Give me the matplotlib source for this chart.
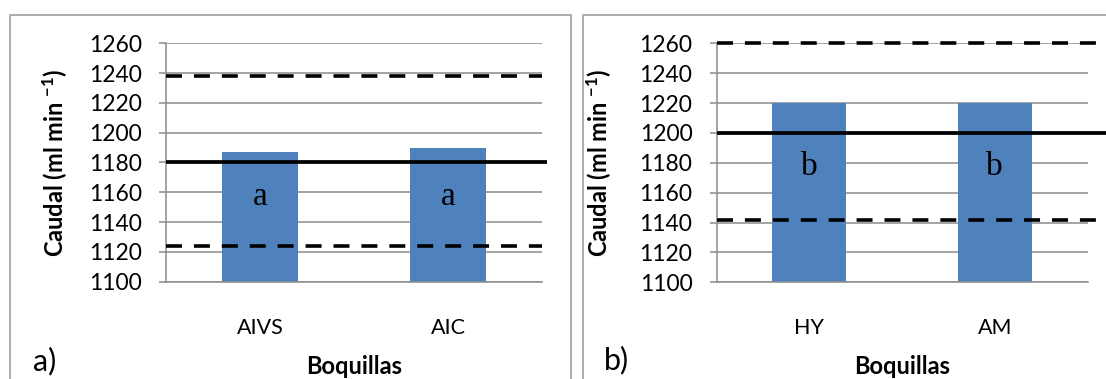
import matplotlib
matplotlib.use("Agg")
import matplotlib.pyplot as plt
from matplotlib.lines import Line2D

plt.rcParams['font.family'] = ['Lato', 'DejaVu Sans']
plt.rcParams['mathtext.default'] = 'regular'
plt.rcParams['lines.scale_dashes'] = False

# ---- data ----
cats_a = ["AIVS", "AIC"]
vals_a = [1187, 1190]
letters_a = ["a", "a"]
mean_a = 1180
lo_a = 1124
hi_a = 1238

cats_b = ["HY", "AM"]
vals_b = [1220, 1220]
letters_b = ["b", "b"]
mean_b = 1200
lo_b = 1142
hi_b = 1260

yticks = list(range(1100, 1261, 20))

W, H = 1106, 379
fig = plt.figure(figsize=(W / 100, H / 100), dpi=100)

BAR = '#4F81BD'
GRID = '#8c8c8c'


def px(x0, y_top, x1, y_bot):
    return [x0 / W, 1 - y_bot / H, (x1 - x0) / W, (y_bot - y_top) / H]


def panel(rect, cats, vals, letters, letter_y, mean, lo, hi, solid_xmax, dash_xmax, ylab_x):
    ax = fig.add_axes(rect)
    x = list(range(len(cats)))
    ax.bar(x, vals, width=0.40, color=BAR, zorder=2)
    ax.set_xlim(-0.5, len(cats) - 0.5)
    ax.set_ylim(yticks[0], yticks[-1])
    ax.set_yticks(yticks)
    ax.set_xticks(x)
    ax.set_xticklabels(cats, fontsize=15.5)
    ax.tick_params(axis='x', length=0, pad=26)
    ax.tick_params(axis='y', length=5, width=1.1, color=GRID, pad=12.5, labelsize=16.5)
    ax.yaxis.grid(True, color=GRID, linewidth=1.1, zorder=0)
    ax.set_axisbelow(True)
    for s in ['top', 'right']:
        ax.spines[s].set_visible(False)
    for s in ['left', 'bottom']:
        ax.spines[s].set_color(GRID)
        ax.spines[s].set_linewidth(1.1)
    ax.axhline(mean, xmin=0, xmax=solid_xmax, color='black', lw=2.7,
               clip_on=False, zorder=3, solid_capstyle='butt')
    for v in (lo, hi):
        ax.axhline(v, xmin=0, xmax=dash_xmax, color='black', lw=2.6,
                   linestyle=(0, (11.5, 8.6)), dash_capstyle='butt',
                   clip_on=False, zorder=3)
    for xi, t in zip(x, letters):
        ax.text(xi, letter_y, t, ha='center', va='baseline',
                fontsize=24, family='Liberation Serif', zorder=4)
    ax.set_ylabel(r'Caudal (ml min $^{-1}$)', fontsize=17, fontweight='bold')
    ax.yaxis.set_label_coords(ylab_x, 0.5)
    return ax


ax_a = panel(px(166, 43.3, 542, 281.7), cats_a, vals_a, letters_a, 1151.5,
             mean_a, lo_a, hi_a, 1.0125, 1.0, -0.255)
ax_b = panel(px(716.7, 43.3, 1087.5, 282.3), cats_b, vals_b, letters_b, 1171.5,
             mean_b, lo_b, hi_b, 1.06, 1.026, -0.277)

# x-axis titles and panel tags
fig.text(354 / W, 1 - 378.5 / H, 'Boquillas', ha='center', va='bottom',
         fontsize=17, fontweight='bold')
fig.text(902 / W, 1 - 378.5 / H, 'Boquillas', ha='center', va='bottom',
         fontsize=17, fontweight='bold')
fig.text(33 / W, 1 - 361 / H, 'a)', ha='left', va='center', fontsize=22)
fig.text(604 / W, 1 - 360 / H, 'b)', ha='left', va='center', fontsize=22)

# panel borders
BORDER = '#a6a6a6'
for (x0, x1, has_right) in [(9.6, 571, True), (582.6, 1120, False)]:
    xs = [x0 / W, x0 / W, x1 / W]
    ys = [-0.05, 1 - 15 / H, 1 - 15 / H]
    if has_right:
        xs.append(x1 / W)
        ys.append(-0.05)
    fig.add_artist(Line2D(xs, ys, color=BORDER, lw=1.3, transform=fig.transFigure))

fig.savefig('out.png', dpi=100)
